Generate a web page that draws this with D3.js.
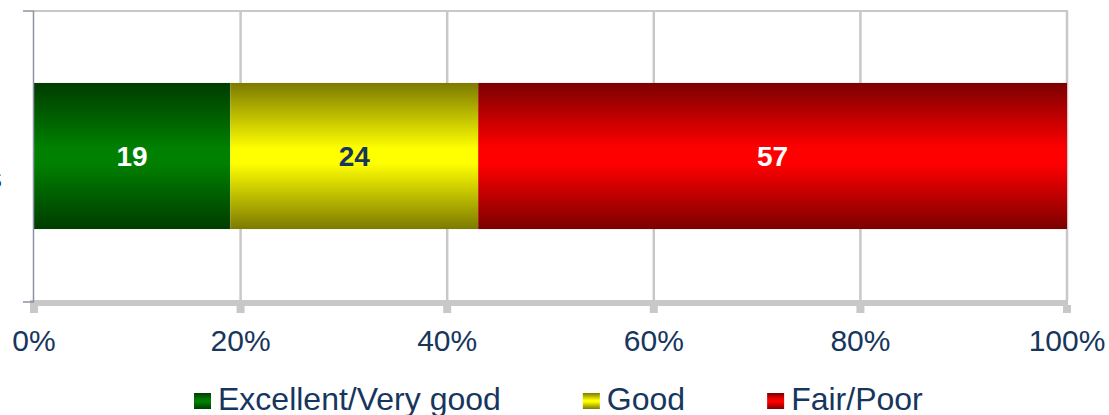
<!DOCTYPE html>
<html>
<head>
<meta charset="utf-8">
<script src="https://cdn.jsdelivr.net/npm/d3@7"></script>
<style>
  html, body { margin: 0; padding: 0; background: #ffffff; overflow: hidden; }
  svg { display: block; font-family: "Liberation Sans", Arial, sans-serif; }
</style>
</head>
<body>
<svg id="chart" width="1109" height="415"></svg>
<script>
// Chart data
const categories = ["Health status"];
const seriesNames = ["Excellent/Very good", "Good", "Fair/Poor"];
const seriesValues = [19, 24, 57];
const tickValues = [0, 20, 40, 60, 80, 100];
const tickLabels = ["0%", "20%", "40%", "60%", "80%", "100%"];

// Styling
const baseColors = ["#008000", "#ffff00", "#ff0000"];
const edgeColors = ["#003c00", "#7c7a00", "#7c0000"];
const labelColors = ["#ffffff", "#17365d", "#ffffff"];
const textColor = "#17365d";
const gridColor = "#c8c8c8";

const svg = d3.select("#chart");
const plot = { left: 34, right: 1067, top: 11, bottom: 301 };

const x = d3.scaleLinear().domain([0, 100]).range([plot.left, plot.right]);
const y = d3.scaleBand().domain(categories).range([plot.top, plot.bottom]).padding(0.33);

// Vertical gradients: dark at the edges, bright through the middle
const defs = svg.append("defs");
seriesNames.forEach((name, i) => {
  const g = defs.append("linearGradient")
    .attr("id", "grad" + i)
    .attr("x1", 0).attr("y1", 0).attr("x2", 0).attr("y2", 1);
  g.append("stop").attr("offset", "0%").attr("stop-color", edgeColors[i]);
  g.append("stop").attr("offset", "45%").attr("stop-color", baseColors[i]);
  g.append("stop").attr("offset", "55%").attr("stop-color", baseColors[i]);
  g.append("stop").attr("offset", "100%").attr("stop-color", edgeColors[i]);
});

// Grid lines
svg.append("g").selectAll("line")
  .data(tickValues.slice(1))
  .join("line")
  .attr("x1", d => x(d)).attr("x2", d => x(d))
  .attr("y1", plot.top).attr("y2", plot.bottom)
  .attr("stroke", gridColor).attr("stroke-width", 2.5);

// Top border
svg.append("line")
  .attr("x1", plot.left).attr("x2", plot.right + 1)
  .attr("y1", plot.top).attr("y2", plot.top)
  .attr("stroke", gridColor).attr("stroke-width", 2);

// Stacked bar
const row = { category: categories[0] };
seriesNames.forEach((n, i) => row[n] = seriesValues[i]);
const stacked = d3.stack().keys(seriesNames)([row]);

const segs = svg.append("g").selectAll("g")
  .data(stacked)
  .join("g");

segs.append("rect")
  .attr("x", d => x(d[0][0]))
  .attr("width", d => x(d[0][1]) - x(d[0][0]))
  .attr("y", y(categories[0]))
  .attr("height", y.bandwidth())
  .attr("fill", (d, i) => `url(#grad${i})`);

segs.append("text")
  .attr("x", d => (x(d[0][0]) + x(d[0][1])) / 2)
  .attr("y", y(categories[0]) + y.bandwidth() / 2 + 10)
  .attr("text-anchor", "middle")
  .attr("font-size", 28)
  .attr("font-weight", "bold")
  .attr("fill", (d, i) => labelColors[i])
  .text(d => d[0][1] - d[0][0]);

// Bottom axis: thick grey base line with short ticks
const axisG = svg.append("g");
axisG.append("rect")
  .attr("x", plot.left - 4).attr("y", plot.bottom - 1)
  .attr("width", plot.right - plot.left + 5).attr("height", 6)
  .attr("fill", gridColor);
axisG.selectAll("rect.tick")
  .data(tickValues)
  .join("rect")
  .attr("class", "tick")
  .attr("x", d => x(d) - 4).attr("y", plot.bottom + 4)
  .attr("width", 8).attr("height", 8)
  .attr("fill", gridColor);
axisG.selectAll("text")
  .data(tickValues)
  .join("text")
  .attr("x", d => x(d))
  .attr("y", 351)
  .attr("text-anchor", "middle")
  .attr("font-size", 30)
  .attr("fill", textColor)
  .text((d, i) => tickLabels[i]);

// Left category axis
const yAxisColor = "#8c93a5";
svg.append("line")
  .attr("x1", plot.left - 0.5).attr("x2", plot.left - 0.5)
  .attr("y1", plot.top).attr("y2", plot.bottom + 1)
  .attr("stroke", yAxisColor).attr("stroke-width", 1.5);
svg.selectAll("line.ytick")
  .data([plot.top, plot.bottom + 1])
  .join("line")
  .attr("class", "ytick")
  .attr("x1", plot.left - 11).attr("x2", plot.left)
  .attr("y1", d => d).attr("y2", d => d)
  .attr("stroke", yAxisColor).attr("stroke-width", 1.5);
svg.append("text")
  .attr("x", 2).attr("y", 188)
  .attr("text-anchor", "end")
  .attr("font-size", 30)
  .attr("fill", textColor)
  .text(categories[0]);

// Legend
const legend = svg.append("g");
let lx = 194;
seriesNames.forEach((name, i) => {
  legend.append("rect")
    .attr("x", lx).attr("y", 393)
    .attr("width", 17).attr("height", 16)
    .attr("fill", `url(#grad${i})`);
  const t = legend.append("text")
    .attr("x", lx + 24).attr("y", 410)
    .attr("font-size", 32)
    .attr("fill", textColor)
    .text(name);
  lx += 24 + t.node().getComputedTextLength() + 82;
});
</script>
</body>
</html>
